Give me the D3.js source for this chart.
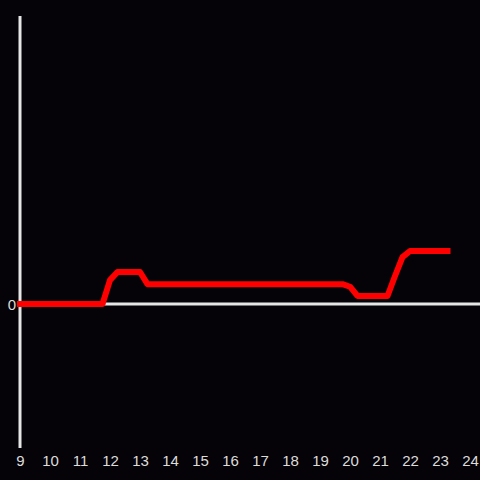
<!DOCTYPE html>
<html><head><meta charset="utf-8">
<script src="https://cdn.jsdelivr.net/npm/d3@7"></script>
<style>html,body{margin:0;padding:0;background:#050308;}svg{display:block;}</style>
</head><body>
<script>
const times = ["9:00","9:15","9:30","9:45","10:00","10:15","10:30","10:45","11:00","11:15","11:30","11:45","12:00","12:15","12:30","12:45","13:00","13:15","13:30","14:00","15:00","16:00","17:00","18:00","19:00","19:30","19:45","20:00","20:15","20:30","21:00","21:15","21:30","21:45","22:00","22:30","23:00","23:15"];
const values = [0,0,0,0,0,0,0,0,0,0,0,0,8.3,11.1,11.1,11.1,11.1,6.9,6.9,6.9,6.9,6.9,6.9,6.9,6.9,6.9,6.9,6.0,2.8,2.8,2.8,2.8,9.7,16.3,18.4,18.4,18.4,18.4];
const xTicks = [9,10,11,12,13,14,15,16,17,18,19,20,21,22,23,24];
const yTicks = [0];

const W = 480, H = 480;
const svg = d3.select("body").append("svg").attr("width", W).attr("height", H);
svg.append("rect").attr("width", W).attr("height", H).attr("fill", "#050308");

const toHours = t => { const [h, m] = t.split(":").map(Number); return h + m / 60; };
const x = d3.scaleLinear().domain([9, 24]).range([20, 470]);
const y = d3.scaleLinear().domain([-50, 100]).range([448, 16]);

// y axis line
svg.append("line").attr("x1", 20).attr("x2", 20).attr("y1", y(100)).attr("y2", y(-50))
  .attr("stroke", "#e6e6e6").attr("stroke-width", 3);
// x axis line at zero
svg.append("line").attr("x1", 20).attr("x2", W).attr("y1", y(0)).attr("y2", y(0))
  .attr("stroke", "#e6e6e6").attr("stroke-width", 3);

const xAxis = svg.append("g").attr("transform", `translate(0,${y(-50)})`)
  .call(d3.axisBottom(x).tickValues(xTicks).tickSize(0).tickPadding(0).tickFormat(d3.format("d")));
xAxis.select(".domain").remove();
xAxis.selectAll("text").attr("fill", "#dcdcdc").attr("font-size", 15)
  .attr("font-family", "Liberation Sans, Arial, sans-serif").attr("y", 18).attr("dy", 0);

const yAxis = svg.append("g").attr("transform", "translate(20,0)")
  .call(d3.axisLeft(y).tickValues(yTicks).tickSize(0).tickPadding(4).tickFormat(d3.format("d")));
yAxis.select(".domain").remove();
yAxis.selectAll("text").attr("fill", "#dcdcdc").attr("font-size", 15)
  .attr("font-family", "Liberation Sans, Arial, sans-serif").attr("dy", "0.35em");

const data = times.map((t, i) => ({ t: toHours(t), v: values[i] }));
svg.append("path").datum(data)
  .attr("fill", "none").attr("stroke", "#ff0000").attr("stroke-width", 6)
  .attr("stroke-linecap", "square").attr("stroke-linejoin", "round")
  .attr("d", d3.line().x(d => x(d.t)).y(d => y(d.v)));
</script>
</body></html>
